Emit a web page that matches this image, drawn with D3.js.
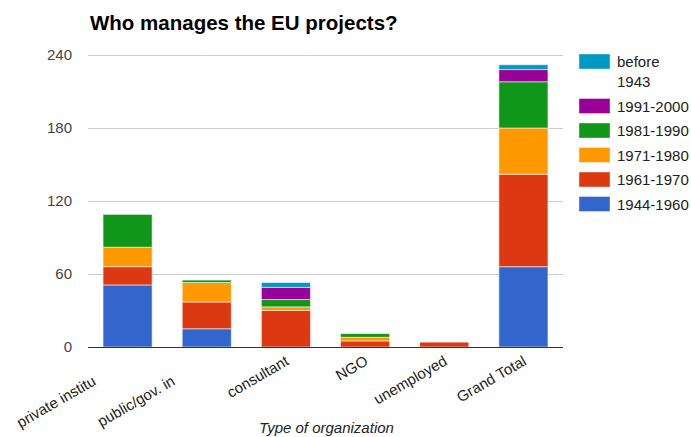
<!DOCTYPE html>
<html>
<head>
<meta charset="utf-8">
<script src="https://cdn.jsdelivr.net/npm/d3@7"></script>
<style>
  html, body { margin: 0; padding: 0; background: #fff; }
  svg { display: block; font-family: Arial, "Liberation Sans", sans-serif; }
</style>
</head>
<body>
<svg id="chart" width="691" height="437"></svg>
<script>
// Organisation types along the x axis
const categories = ["private institu", "public/gov. in", "consultant", "NGO", "unemployed", "Grand Total"];

// Stacked series, listed bottom to top
const seriesNames = ["1944-1960", "1961-1970", "1971-1980", "1981-1990", "1991-2000", "before 1943"];
const s1944_1960  = [51, 15, 0, 0, 0, 66];
const s1961_1970  = [15, 22, 30, 5, 4, 76];
const s1971_1980  = [16, 16, 3, 3, 0, 38];
const s1981_1990  = [27, 2, 6, 3, 0, 38];
const s1991_2000  = [0, 0, 10, 0, 0, 10];
const sBefore1943 = [0, 0, 4, 0, 0, 4];
const seriesColors = ["#3366cc", "#dc3912", "#ff9900", "#109618", "#990099", "#0099c6"];

const yTicks = [0, 60, 120, 180, 240];

const title = "Who manages the EU projects?";
const xTitle = "Type of organization";

// ---- table for d3.stack ----
const seriesValues = [s1944_1960, s1961_1970, s1971_1980, s1981_1990, s1991_2000, sBefore1943];
const table = categories.map((c, i) => {
  const row = { category: c };
  seriesNames.forEach((s, k) => { row[s] = seriesValues[k][i]; });
  return row;
});
const stacked = d3.stack().keys(seriesNames)(table);

// ---- layout ----
const plot = { left: 88, right: 563, top: 55, bottom: 347 };
const svg = d3.select("#chart");

const x = d3.scaleBand()
  .domain(categories)
  .range([plot.left, plot.right])
  .paddingInner(0.38)
  .paddingOuter(0.19);

const y = d3.scaleLinear()
  .domain([0, 240])
  .range([plot.bottom, plot.top]);

const color = d3.scaleOrdinal().domain(seriesNames).range(seriesColors);

// title
svg.append("text")
  .attr("x", 90)
  .attr("y", 30)
  .attr("font-size", 20.5)
  .attr("font-weight", "bold")
  .attr("fill", "#000")
  .text(title);

// gridlines
svg.append("g")
  .selectAll("line")
  .data(yTicks.filter(t => t !== 0))
  .join("line")
  .attr("x1", plot.left)
  .attr("x2", plot.right)
  .attr("y1", d => Math.round(y(d)) + 0.5)
  .attr("y2", d => Math.round(y(d)) + 0.5)
  .attr("stroke", "#cccccc")
  .attr("stroke-width", 1);

// y axis labels
svg.append("g")
  .selectAll("text")
  .data(yTicks)
  .join("text")
  .attr("x", 72)
  .attr("y", d => y(d) + 5)
  .attr("text-anchor", "end")
  .attr("font-size", 15)
  .attr("fill", "#444")
  .text(d => d);

// stacked bars
svg.append("g")
  .selectAll("g")
  .data(stacked)
  .join("g")
  .attr("fill", d => color(d.key))
  .selectAll("rect")
  .data(d => d.filter(p => p[1] - p[0] > 0))
  .join("rect")
  .attr("x", d => x(d.data.category))
  .attr("width", x.bandwidth())
  .attr("y", d => y(d[1]))
  .attr("height", d => y(d[0]) - y(d[1]))
  .attr("stroke", "#ffffff")
  .attr("stroke-opacity", 0.55)
  .attr("stroke-width", 1);

// baseline
svg.append("line")
  .attr("x1", plot.left)
  .attr("x2", plot.right)
  .attr("y1", y(0) + 0.5)
  .attr("y2", y(0) + 0.5)
  .attr("stroke", "#333")
  .attr("stroke-width", 1.2);

// slanted category labels; the two long, clipped names sit further down the slant
const clipped = new Set([categories[0], categories[1]]);
svg.append("g")
  .selectAll("text")
  .data(categories)
  .join("text")
  .attr("transform", d => {
    const cx = x(d) + x.bandwidth() / 2 + 4;
    const cy = 364;
    const shift = clipped.has(d) ? 40 : 0;
    const px = cx - shift * Math.cos(Math.PI / 6);
    const py = cy + shift * Math.sin(Math.PI / 6);
    return `translate(${px},${py}) rotate(-30)`;
  })
  .attr("text-anchor", "end")
  .attr("font-size", 15)
  .attr("fill", "#222")
  .text(d => d);

// x axis title
svg.append("text")
  .attr("x", (plot.left + plot.right) / 2 + 1)
  .attr("y", 433)
  .attr("text-anchor", "middle")
  .attr("font-size", 15)
  .attr("font-style", "italic")
  .attr("fill", "#222")
  .text(xTitle);

// legend, top entry is the last stacked series
const legendItems = seriesNames.slice().reverse().map(name => ({
  name,
  lines: name === "before 1943" ? ["before", "1943"] : [name]
}));
let ly = 54;
const legend = svg.append("g");
legendItems.forEach(item => {
  legend.append("rect")
    .attr("x", 579)
    .attr("y", ly)
    .attr("width", 31)
    .attr("height", 15)
    .attr("fill", color(item.name))
    .attr("stroke", "#ffffff")
    .attr("stroke-opacity", 0.4);
  item.lines.forEach((ln, i) => {
    legend.append("text")
      .attr("x", 617)
      .attr("y", ly + 13 + i * 20)
      .attr("font-size", 15)
      .attr("fill", "#222")
      .text(ln);
  });
  ly += item.lines.length * 20 + 4.5;
});
</script>
</body>
</html>
